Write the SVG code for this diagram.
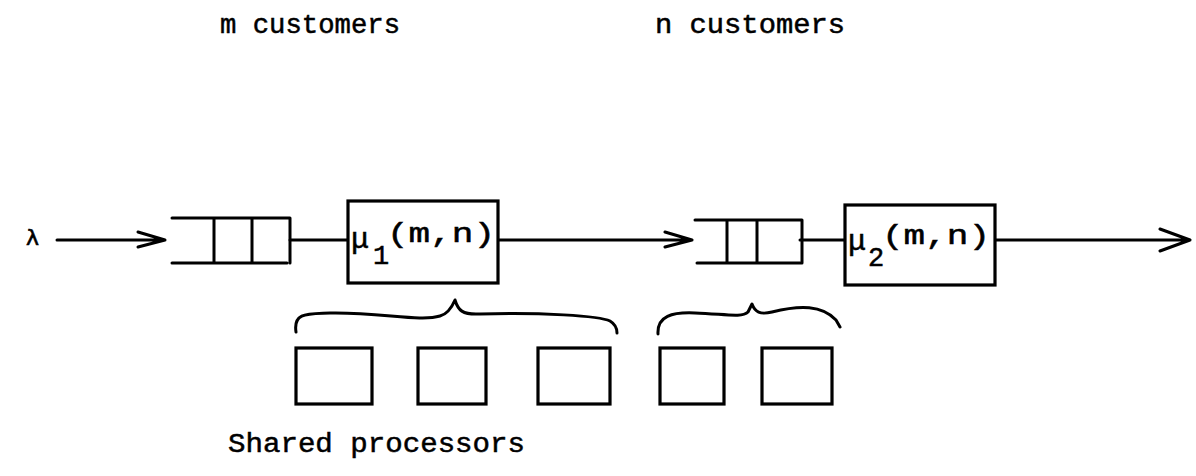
<svg xmlns="http://www.w3.org/2000/svg" width="1196" height="476" viewBox="0 0 1196 476">
<style>
.ln{stroke:#000;stroke-width:3;fill:none;stroke-linecap:round;stroke-linejoin:round}
.bx{stroke:#000;stroke-width:3.2;fill:#fff}
.t{font-family:"Liberation Mono","Courier New",monospace;font-size:27px;fill:#000;stroke:#000;stroke-width:0.5}
.s{font-size:30px}
</style>
<rect width="1196" height="476" fill="#fff"/>
<g id="labels">
<text class="t" x="220" y="33" textLength="180" lengthAdjust="spacingAndGlyphs">m customers</text>
<text class="t" x="655" y="33" textLength="190" lengthAdjust="spacingAndGlyphs">n customers</text>
<text x="26" y="245" style="font-family:'DejaVu Sans',sans-serif;font-size:22px;fill:#000;stroke:#000;stroke-width:0.6">λ</text>
</g>
<g id="connectors">
<path class="ln" d="M57 240 H165 M138 232 L165 240 L138 247"/>
<path class="ln" d="M290 240 H348"/>
<path class="ln" d="M498 240 H692 M665 232 L692 240 L665 247"/>
<path class="ln" d="M800 240 H845"/>
<path class="ln" d="M995 240 H1190 M1160 229 L1190 240 L1160 251"/>
</g>
<g id="queue1">
<path class="ln" d="M172 218 H290 V263 M172 263 H287 M214 218 V263 M252 218 V263"/>
</g>
<g id="server1">
<rect class="bx" x="348" y="201" width="150" height="82"/>
<text class="t s" x="351" y="248">μ</text>
<text class="t" x="373" y="264">1</text>
<text class="t" x="387" y="242" textLength="108" lengthAdjust="spacingAndGlyphs">(m,n)</text>
</g>
<g id="queue2">
<path class="ln" d="M695 220 H802 V263 M697 263 H800 M727 220 V263 M757 220 V263"/>
</g>
<g id="server2">
<rect class="bx" x="845" y="205" width="150" height="80"/>
<text class="t s" x="848" y="250">μ</text>
<text class="t" x="868" y="266">2</text>
<text class="t" x="882" y="244" textLength="108" lengthAdjust="spacingAndGlyphs">(m,n)</text>
</g>
<g id="processors">
<path class="ln" d="M296 332 C293 312 308 314 330 313 C380 312 420 322 440 316 C448 314 452 307 455 300 C458 310 462 315 480 314 C540 312 600 316 610 321 C615 324 617 329 617 333"/>
<path class="ln" d="M658 334 C657 316 672 312 695 313 C725 314 742 318 748 312 L752 304 C755 312 760 315 772 312 C800 305 822 305 836 320 L840 327"/>
<rect class="bx" x="296" y="348" width="76" height="56"/>
<rect class="bx" x="418" y="348" width="68" height="56"/>
<rect class="bx" x="538" y="348" width="72" height="56"/>
<rect class="bx" x="660" y="348" width="64" height="56"/>
<rect class="bx" x="762" y="348" width="70" height="56"/>
<text class="t" x="228" y="452" textLength="297" lengthAdjust="spacingAndGlyphs">Shared processors</text>
</g>
</svg>
